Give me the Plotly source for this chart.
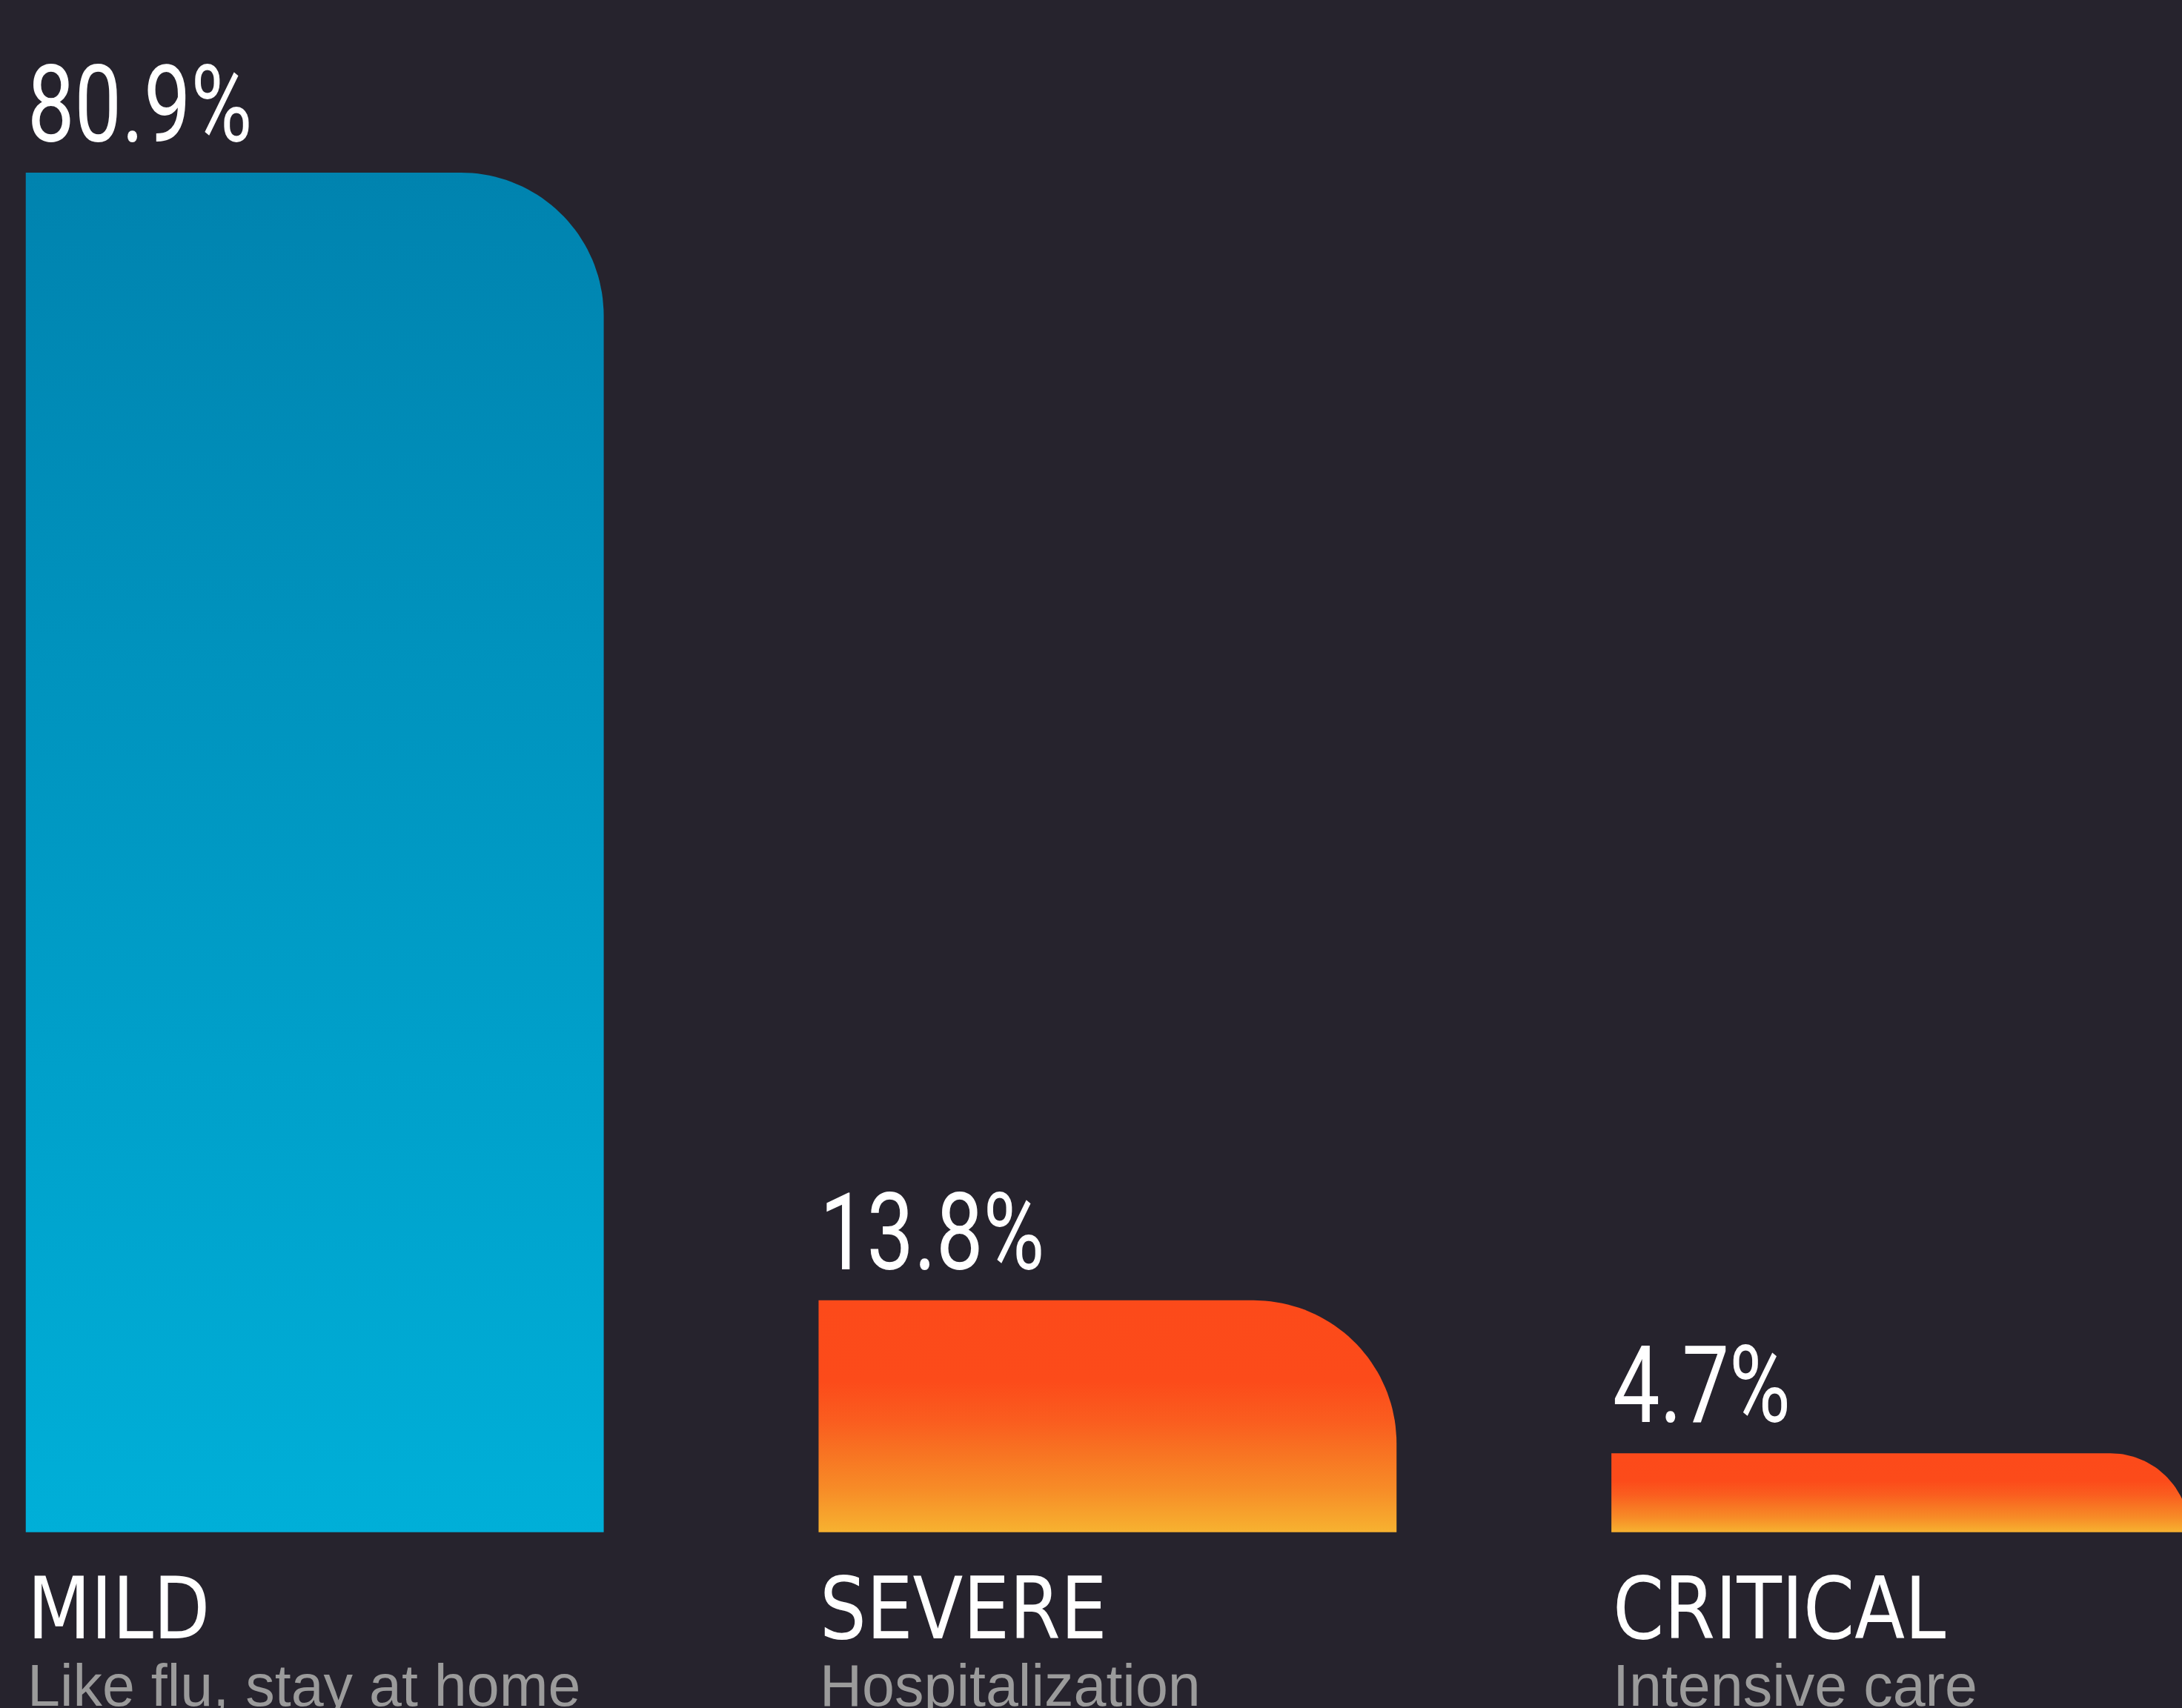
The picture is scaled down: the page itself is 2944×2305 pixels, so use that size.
import json

import numpy as np
import plotly.graph_objects as go

BG = "#26232D"
WHITE = "#FFFFFF"
GREY = "#9B9B9B"

# data
categories = ["MILD", "SEVERE", "CRITICAL"]
descriptions = ["Like flu, stay at home", "Hospitalization", "Intensive care"]
shares = [80.9, 13.8, 4.7]
value_labels = ["80.9%", "13.8%", "4.7%"]

BLUE_SCALE = [[0.0, "#00AFD8"], [1.0, "#0083AF"]]
ORANGE_SCALE = [[0.0, "#F7B230"], [0.19, "#F78B27"], [0.35, "#F87222"],
                [0.48, "#FA5D1F"], [0.65, "#FC4B1A"], [1.0, "#FC4A1A"]]
scales = [BLUE_SCALE, ORANGE_SCALE, ORANGE_SCALE]

W, H = 2944, 2305
X_RANGE = [-0.397, 2.3552]
Y_RANGE = [-10.46, 91.17]
BAR_W = 0.729
RADIUS_PX = 193

# horizontal squeeze per label (no condensed faces installed)
SQUEEZE = {lab: 0.78 for lab in value_labels}
SQUEEZE.update({c: 0.95 for c in categories})

px_x = W / (X_RANGE[1] - X_RANGE[0])
px_y = H / (Y_RANGE[1] - Y_RANGE[0])

NUM_FONT = "Roboto, Liberation Sans"
TITLE_FONT = "DejaVu Sans Condensed, Liberation Sans"


def bar_outline(i, v):
    """bar path with only the top-right corner rounded (radius capped at bar height)"""
    left, right = i - BAR_W / 2, i + BAR_W / 2
    r = min(RADIUS_PX, v * px_y)
    rx, ry = r / px_x, r / px_y
    cx, cy = right - rx, v - ry
    t = np.linspace(np.pi / 2, 0, 40)
    xs = [left, left] + list(cx + rx * np.cos(t)) + [right, left]
    ys = [0, v] + list(cy + ry * np.sin(t)) + [0, 0]
    return xs, ys


fig = go.Figure()
for i, v in enumerate(shares):
    xs, ys = bar_outline(i, v)
    fig.add_trace(go.Scatter(
        x=xs, y=ys, mode="lines", fill="toself",
        fillgradient=dict(type="vertical", colorscale=scales[i]),
        line=dict(width=0, color="rgba(0,0,0,0)"),
        hoverinfo="skip", showlegend=False,
    ))

    # value above the bar
    fig.add_annotation(
        x=i - BAR_W / 2, y=v, xref="x", yref="y",
        text=value_labels[i], showarrow=False,
        xanchor="left", yanchor="bottom", yshift=5,
        font=dict(family=NUM_FONT, size=145, color=WHITE),
    )
    # category name + description under the bar
    fig.add_annotation(
        x=i - BAR_W / 2, y=0, xref="x", yref="y",
        text=categories[i], showarrow=False,
        xanchor="left", yanchor="top", yshift=-33,
        font=dict(family=TITLE_FONT, size=116, color=WHITE),
    )
    fig.add_annotation(
        x=i - BAR_W / 2, y=0, xref="x", yref="y",
        text=descriptions[i], showarrow=False,
        xanchor="left", yanchor="top", yshift=-160,
        font=dict(family="Liberation Sans, Arial", size=79, color=GREY),
    )

fig.update_layout(
    width=W, height=H,
    margin=dict(t=0, b=0, l=0, r=0),
    paper_bgcolor=BG, plot_bgcolor=BG,
    showlegend=False,
)
fig.update_xaxes(range=X_RANGE, visible=False, fixedrange=True)
fig.update_yaxes(range=Y_RANGE, visible=False, fixedrange=True)

# page without body margin + narrower glyphs for the labels listed in SQUEEZE
post = """
document.body.style.margin = '0';
document.body.style.background = '%s';
var squeeze = %s;
var gd = document.getElementById('{plot_id}');
gd.querySelectorAll('g.annotation').forEach(function (a) {
  var t = a.querySelector('text.annotation-text');
  if (!t || !(t.textContent in squeeze)) return;
  var b = t.getBBox();
  t.setAttribute('transform', 'translate(' + b.x + ',0) scale(' +
    squeeze[t.textContent] + ',1) translate(' + (-b.x) + ',0)');
});
""" % (BG, json.dumps(SQUEEZE))

fig.write_html("out.html", config={"displayModeBar": False}, post_script=post)
